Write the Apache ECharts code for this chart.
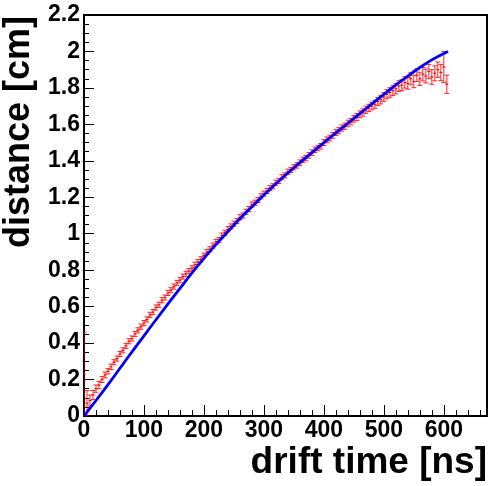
<!DOCTYPE html>
<html>
<head>
<meta charset="utf-8">
<script src="https://cdn.jsdelivr.net/npm/echarts@6/dist/echarts.min.js"></script>
<style>
html,body{margin:0;padding:0;background:#fff;}
#c{width:490px;height:486px;}
</style>
</head>
<body>
<div id="c"></div>
<script>
// ---- data ----
const xTitle = 'drift time [ns]';
const yTitle = 'distance [cm]';

const redTime = [0,5,10,15,20,25,30,35,40,45,50,55,60,65,70,75,80,85,90,95,
  100,105,110,115,120,125,130,135,140,145,150,155,160,165,170,175,180,185,190,195,
  200,205,210,215,220,225,230,235,240,245,250,255,260,265,270,275,280,285,290,295,
  300,305,310,315,320,325,330,335,340,345,350,355,360,365,370,375,380,385,390,395,
  400,405,410,415,420,425,430,435,440,445,450,455,460,465,470,475,480,485,490,495,
  500,505,510,515,520,525,530,535,540,545,550,555,560,565,570,575,580,585,590,595,
  600,605];
const redDist = [0.23,0.07,0.085,0.115,0.15,0.17,0.20,0.225,0.245,0.27,
  0.295,0.315,0.34,0.36,0.385,0.41,0.425,0.45,0.47,0.49,
  0.51,0.53,0.555,0.57,0.595,0.61,0.635,0.65,0.675,0.69,
  0.71,0.73,0.745,0.765,0.78,0.795,0.81,0.83,0.845,0.86,
  0.88,0.90,0.915,0.935,0.955,0.965,0.99,1.005,1.025,1.04,
  1.055,1.07,1.09,1.10,1.12,1.135,1.16,1.17,1.185,1.205,
  1.22,1.235,1.25,1.26,1.28,1.29,1.31,1.32,1.34,1.35,
  1.365,1.375,1.39,1.405,1.415,1.43,1.445,1.46,1.47,1.48,
  1.50,1.515,1.525,1.54,1.555,1.565,1.58,1.59,1.605,1.615,
  1.63,1.64,1.655,1.665,1.68,1.69,1.70,1.71,1.725,1.735,
  1.75,1.765,1.775,1.785,1.795,1.81,1.815,1.83,1.825,1.85,
  1.835,1.87,1.85,1.875,1.865,1.89,1.86,1.88,1.90,1.885,
  1.915,1.82];
const redErr = [0.23,0.07,0.03,0.025,0.02,0.02,0.016,0.016,0.015,0.015,
  0.014,0.014,0.014,0.014,0.014,0.014,0.014,0.014,0.014,0.014,
  0.014,0.014,0.014,0.014,0.014,0.014,0.014,0.014,0.014,0.014,
  0.014,0.014,0.014,0.014,0.014,0.014,0.014,0.014,0.014,0.014,
  0.014,0.014,0.014,0.014,0.014,0.014,0.014,0.014,0.014,0.014,
  0.014,0.014,0.014,0.014,0.014,0.014,0.014,0.014,0.014,0.014,
  0.014,0.014,0.014,0.014,0.014,0.014,0.014,0.014,0.014,0.014,
  0.015,0.015,0.015,0.015,0.015,0.015,0.015,0.015,0.015,0.015,
  0.016,0.016,0.016,0.016,0.016,0.017,0.017,0.017,0.018,0.018,
  0.018,0.019,0.019,0.02,0.02,0.02,0.021,0.022,0.022,0.023,
  0.024,0.025,0.026,0.027,0.028,0.029,0.03,0.031,0.032,0.033,
  0.034,0.035,0.036,0.037,0.038,0.039,0.04,0.041,0.042,0.044,
  0.085,0.05];

const blueTime = [0,20,40,60,80,100,120,140,160,180,200,220,240,260,280,300,320,340,360,380,
  400,420,440,460,480,500,520,540,560,580,600,607];
const blueDist = [0.0,0.085,0.172,0.262,0.352,0.44,0.528,0.615,0.70,0.785,0.865,0.94,1.012,1.082,1.148,1.212,1.274,1.333,1.39,1.445,
  1.50,1.553,1.606,1.659,1.712,1.765,1.816,1.865,1.912,1.954,1.989,2.0];

const xMin = 0, xMax = 672, xInterval = 100;
const yMin = 0, yMax = 2.2, yInterval = 0.2;

// ---- chart ----
const redData = redTime.map((t, i) => [t, redDist[i], redErr[i]]);
const blueData = blueTime.map((t, i) => [t, blueDist[i]]);

const chart = echarts.init(document.getElementById('c'), null, {renderer: 'canvas'});
const FONT = 'Liberation Sans';

function renderErr(params, api) {
  const x = api.value(0), y = api.value(1), e = api.value(2);
  const hi = api.coord([x, y + e]);
  const lo = api.coord([x, Math.max(0, y - e)]);
  const l = api.coord([x - 2.5, y]);
  const r = api.coord([x + 2.5, y]);
  const st = {stroke: 'rgba(255,0,0,0.85)', lineWidth: 1};
  const cw = 2.5;
  return {
    type: 'group',
    children: [
      {type: 'line', shape: {x1: hi[0], y1: hi[1], x2: lo[0], y2: lo[1]}, style: st},
      {type: 'line', shape: {x1: hi[0] - cw, y1: hi[1], x2: hi[0] + cw, y2: hi[1]}, style: st},
      {type: 'line', shape: {x1: lo[0] - cw, y1: lo[1], x2: lo[0] + cw, y2: lo[1]}, style: st},
      {type: 'line', shape: {x1: l[0], y1: l[1], x2: r[0], y2: r[1]}, style: {stroke: '#ff0000', lineWidth: 1.2}}
    ]
  };
}

chart.setOption({
  animation: false,
  backgroundColor: '#fff',
  grid: {left: 84, right: 3, top: 15, bottom: 70, show: true, borderColor: '#000', borderWidth: 2, backgroundColor: 'transparent'},
  xAxis: {
    type: 'value', min: xMin, max: xMax, interval: xInterval,
    axisLine: {show: true, onZero: false, lineStyle: {color: '#000', width: 2}},
    axisTick: {show: true, inside: true, length: 11, lineStyle: {color: '#000', width: 1}},
    minorTick: {show: true, splitNumber: 5, length: 6, lineStyle: {color: '#000', width: 1}},
    splitLine: {show: false},
    axisLabel: {show: true, margin: 3, showMaxLabel: false, showMinLabel: true, color: '#000',
      fontFamily: FONT, fontWeight: 'bold', fontSize: 23}
  },
  yAxis: {
    type: 'value', min: yMin, max: yMax, interval: yInterval,
    axisLine: {show: true, onZero: false, lineStyle: {color: '#000', width: 2}},
    axisTick: {show: true, inside: true, length: 10, lineStyle: {color: '#000', width: 1}},
    minorTick: {show: true, splitNumber: 4, length: 5, lineStyle: {color: '#000', width: 1}},
    splitLine: {show: false},
    axisLabel: {show: true, margin: 4, showMinLabel: true, showMaxLabel: true, color: '#000',
      fontFamily: FONT, fontWeight: 'bold', fontSize: 23,
      formatter: v => String(Math.round(v * 10) / 10)}
  },
  series: [
    {
      type: 'custom', name: 'data', renderItem: renderErr, data: redData,
      encode: {x: 0, y: 1}, z: 2, clip: true
    },
    {
      type: 'line', name: 'fit', data: blueData, smooth: 0.25, showSymbol: false,
      lineStyle: {color: '#0000ff', width: 2.8}, z: 3
    }
  ],
  graphic: [
    {type: 'text', x: 487, y: 481, style: {text: xTitle, align: 'right', verticalAlign: 'bottom',
      font: 'bold 37px "Liberation Sans"', fill: '#000'}},
    {type: 'text', x: 37, y: 16, rotation: Math.PI / 2, style: {text: yTitle, align: 'right', verticalAlign: 'bottom',
      font: 'bold 36px "Liberation Sans"', fill: '#000'}}
  ]
});
</script>
</body>
</html>
